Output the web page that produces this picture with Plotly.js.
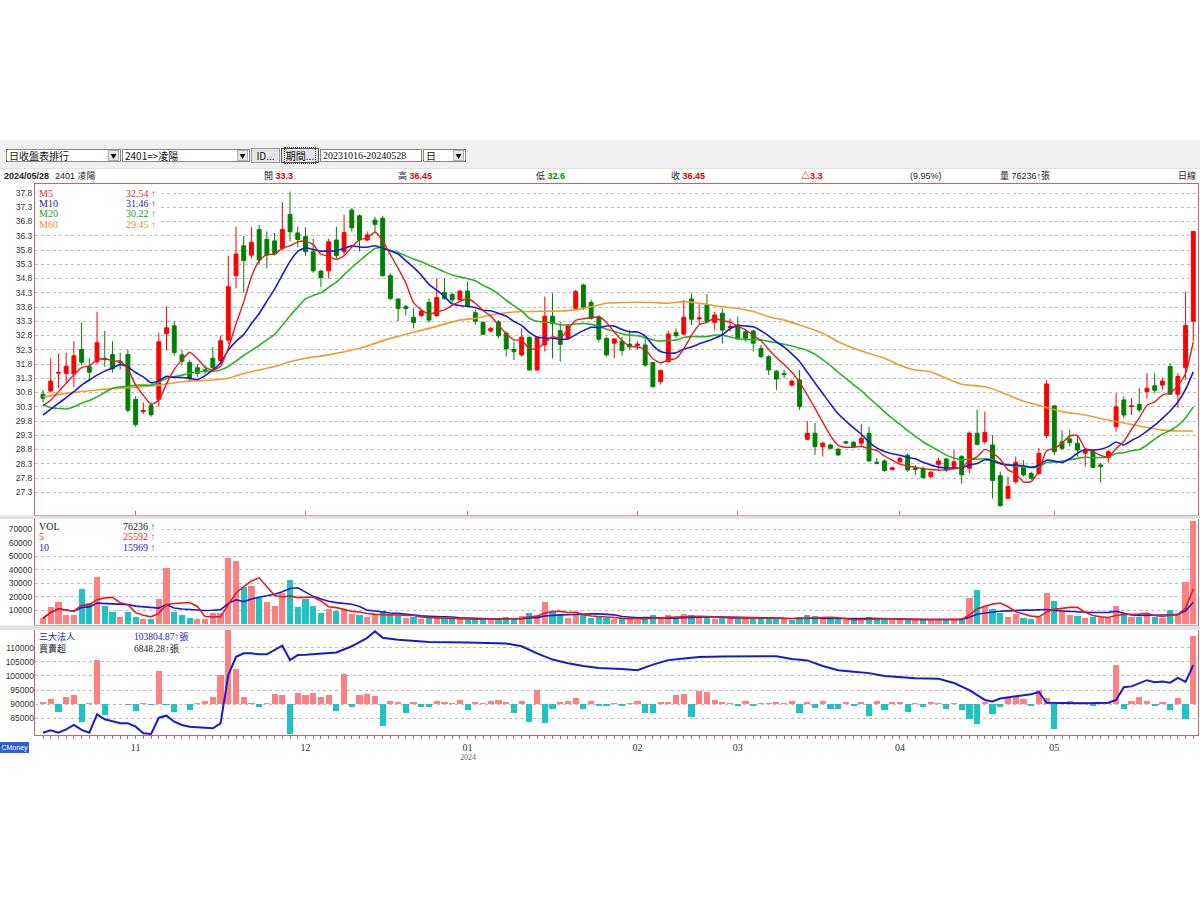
<!DOCTYPE html>
<html><head><meta charset="utf-8">
<script src="https://cdn.plot.ly/plotly-3.0.1.min.js"></script>
<style>
body{margin:0;background:#fff;width:1200px;height:900px;overflow:hidden;position:relative;font-family:"Noto Sans CJK TC","Liberation Sans",sans-serif;}
#chart{position:absolute;left:0;top:0;width:1200px;height:900px;}
.tb{position:absolute;left:0;top:140px;width:1200px;height:28px;background:#f0f0f0;border-bottom:1px solid #e0e0e0;}
.box{position:absolute;top:149px;height:13px;background:#fff;border:1px solid #8a8a8a;font-size:10px;line-height:12px;padding-left:2px;box-sizing:border-box;white-space:nowrap;overflow:hidden;color:#111;}
.arr{position:absolute;top:150px;width:11px;height:11px;background:#e6e6e6;border:1px solid #b0b0b0;box-sizing:border-box;font-size:6px;line-height:9px;text-align:center;color:#000;}
.btn{position:absolute;top:148px;height:15px;background:#e4e4e4;border:1px solid #9a9a9a;font-size:10px;line-height:13px;text-align:center;box-sizing:border-box;color:#111;}
.info{position:absolute;top:170px;height:13px;font-size:9px;line-height:13px;white-space:nowrap;font-family:"Liberation Sans","Noto Sans CJK TC",sans-serif;color:#222;}
.r{color:#e00000;font-weight:bold}
.g{color:#009000;font-weight:bold}
.cm{position:absolute;left:0;top:742px;width:29px;height:11px;background:#2c62d0;color:#fff;font-size:7px;line-height:11px;font-family:"Liberation Sans",sans-serif;text-align:center;overflow:hidden;white-space:nowrap;}
</style>
</head>
<body>
<div id="chart"></div>
<div class="tb"></div>
<div class="box" style="left:6px;width:115px;">日收盤表排行</div><div class="arr" style="left:108px;">▼</div>
<div class="box" style="left:122px;width:128px;">2401=&gt;凌陽</div><div class="arr" style="left:237px;">▼</div>
<div class="btn" style="left:251px;width:29px;">ID...</div>
<div class="btn" style="left:281px;width:38px;border:1px solid #555;"><span style="border:1px dotted #444;padding:0 1px;">期間...</span></div>
<div class="box" style="left:320px;width:102px;font-family:'Liberation Serif',serif;">20231016-20240528</div>
<div class="box" style="left:423px;width:43px;">日</div><div class="arr" style="left:453px;">▼</div>

<div class="info" style="left:4px;font-weight:bold;">2024/05/28</div>
<div class="info" style="left:55px;">2401 凌陽</div>
<div class="info" style="left:264px;">開 <span class="r">33.3</span></div>
<div class="info" style="left:398px;">高 <span class="r">36.45</span></div>
<div class="info" style="left:536px;">低 <span class="g">32.6</span></div>
<div class="info" style="left:671px;">收 <span class="r">36.45</span></div>
<div class="info" style="left:801px;"><span class="r">△3.3</span></div>
<div class="info" style="left:910px;">(9.95%)</div>
<div class="info" style="left:1000px;">量 76236↑張</div>
<div class="info" style="left:1178px;">日線</div>
<div class="cm">CMoney</div>

<script>
// ---------------- DATA ----------------
const openP = [30.74,30.85,31.48,31.47,31.45,32.31,31.71,31.88,32.0,32.13,
31.9,32.13,30.56,30.13,30.34,30.56,32.86,33.14,32.12,31.85,
31.67,31.6,32.0,31.92,32.64,34.9,35.95,35.62,36.52,36.17,
36.12,35.86,37.05,36.4,36.27,35.74,35.06,35.07,36.15,35.74,
37.2,37.0,36.15,36.85,36.91,34.9,34.08,33.81,33.44,33.5,
33.96,33.5,34.31,34.24,34.05,34.36,33.6,33.26,32.96,33.28,
32.88,32.31,32.12,32.74,31.59,32.47,33.48,32.97,32.7,33.75,
34.57,33.96,33.44,32.7,32.53,32.6,32.5,32.45,32.47,31.85,
31.18,31.88,32.9,32.85,34.08,33.38,33.87,33.26,33.58,33.08,
33.17,32.93,32.96,32.35,32.06,31.55,31.47,31.06,31.24,29.16,
29.37,28.9,28.96,28.81,29.07,29.05,29.02,29.37,28.35,28.4,
28.1,28.37,28.6,28.14,28.12,27.85,28.28,28.47,28.2,28.55,
28.14,29.37,29.07,28.96,27.88,27.09,27.67,28.2,27.96,27.96,
29.29,30.33,29.07,29.17,29.02,28.67,28.72,28.26,28.51,29.6,
30.54,30.31,30.38,30.83,31.04,31.06,31.71,30.74,31.67,33.3];

const highP = [30.89,32.0,32.17,32.2,32.6,33.25,32.0,33.63,32.96,32.6,
32.2,32.3,30.67,30.45,30.45,32.9,33.82,33.3,32.3,31.95,
31.8,31.75,32.4,32.8,35.6,36.62,36.3,36.6,36.68,36.45,
36.4,37.48,37.85,36.62,36.6,36.2,35.1,36.2,36.62,37.04,
37.28,37.05,36.45,36.96,37.0,34.98,34.1,33.87,33.75,33.7,
34.1,34.8,34.8,34.3,34.4,34.69,33.7,33.3,33.1,33.34,
32.94,32.58,33.05,32.76,32.76,34.17,34.28,33.29,33.2,34.4,
34.62,34.05,33.52,32.76,32.7,32.75,33.0,32.6,32.76,31.88,
31.6,32.97,33.05,34.05,34.28,33.89,34.26,33.64,33.75,33.4,
33.46,33.0,33.0,32.47,32.12,31.59,31.59,31.25,31.59,29.8,
29.73,29.08,29.0,28.85,29.1,29.1,29.69,29.6,28.5,28.45,
28.2,28.55,28.66,28.25,28.2,28.05,28.5,28.5,28.78,28.61,
29.43,30.2,30.13,29.31,28.02,27.85,28.55,28.43,28.02,28.85,
31.24,30.36,29.48,29.48,29.31,28.84,28.78,28.33,28.78,30.77,
30.66,30.6,30.95,31.48,31.48,31.32,31.83,31.48,34.34,36.45];

const lowP = [30.45,30.8,30.95,31.1,31.0,31.75,31.2,31.8,31.7,31.5,
31.6,30.1,29.6,30.05,29.95,30.3,32.27,32.1,31.75,31.2,
31.35,31.45,31.6,31.85,32.5,34.45,34.3,35.5,35.3,35.15,
35.6,35.8,36.1,35.9,35.6,35.0,34.5,34.8,35.5,35.6,
36.45,35.75,36.1,36.45,34.87,34.05,33.3,33.5,33.05,33.45,
33.26,33.46,34.05,33.95,34.0,33.81,33.18,32.82,32.9,32.7,
32.06,31.94,32.06,31.57,31.57,32.24,31.99,31.88,32.65,33.7,
33.7,33.35,32.58,32.06,32.0,32.1,32.3,32.3,31.71,31.0,
31.08,31.88,32.7,32.82,33.17,33.2,33.23,33.0,32.52,32.94,
32.64,32.6,32.23,32.0,31.41,30.89,31.3,31.0,30.19,29.14,
28.61,28.55,28.8,28.58,28.98,28.85,28.9,28.37,28.28,28.02,
28.05,28.32,28.02,27.9,27.78,27.8,28.05,28.0,28.08,27.6,
27.96,28.96,29.0,27.08,26.8,27.09,27.6,27.85,27.73,27.9,
29.2,28.6,28.78,28.9,28.55,28.2,28.14,27.64,28.33,29.43,
29.89,30.01,30.1,30.6,30.77,30.89,30.72,30.25,31.24,32.6];

const closeP = [30.6,31.2,31.5,31.72,32.09,31.86,31.51,32.55,31.95,31.63,
31.85,30.18,29.68,30.17,30.02,32.58,33.07,32.2,31.9,31.3,
31.47,31.55,31.67,32.62,34.51,35.66,35.43,36.07,35.45,35.62,
35.68,36.52,36.44,36.17,35.74,35.07,34.83,36.09,35.6,36.41,
36.58,36.15,36.33,36.7,34.9,34.1,33.75,33.75,33.26,33.66,
33.34,34.13,34.1,34.05,34.36,33.85,33.3,32.84,33.05,32.79,
32.33,32.23,32.74,31.59,32.74,33.48,33.23,32.49,33.13,34.34,
33.75,33.4,32.67,32.12,32.68,32.27,32.4,32.5,31.76,31.0,
31.57,32.85,32.8,33.44,33.37,33.42,33.29,33.52,32.99,33.12,
32.68,32.7,32.53,32.06,31.59,31.27,31.43,31.2,30.3,29.37,
28.9,29.02,28.84,28.61,29.03,28.9,29.19,28.4,28.31,28.06,
28.16,28.49,28.08,28.1,27.81,28.0,28.4,28.08,28.37,27.91,
29.37,28.98,29.4,27.71,26.83,27.5,28.35,27.91,27.79,28.67,
31.1,28.72,28.84,29.04,28.78,28.78,28.17,28.2,28.72,30.3,
30.01,30.33,30.19,30.95,30.88,31.2,30.74,31.36,33.15,36.45];

const PREV_CLOSE = 30.5;   // close of the day before the first shown day (estimated)

// moving-average values for the days before a full window exists
const ma5Seed  = [30.34,30.53,30.83,31.12];
const ma10Seed = [30.01,30.22,30.42,30.62,30.83,31.06,31.24,31.41,31.55];
const ma20Seed = [30.36,30.27,30.24,30.22,30.30,30.42,30.52,30.65,30.80,30.95,
                  31.00,31.01,31.06,31.06,31.06,31.15,31.30,31.36,31.41];
// MA60: [day index, value]
const ma60Pts = [[0,30.65],[3,30.77],[7,30.89],[11,30.97],[15,31.06],[18,31.18],[22,31.24],[24,31.3],[26,31.47],[28,31.59],
[30,31.71],[32,31.88],[34,32.0],[37,32.12],[41,32.35],[45,32.7],[50,33.05],[54,33.34],[56,33.4],[58,33.52],
[60,33.6],[62,33.64],[67,33.66],[69,33.7],[71,33.81],[73,33.93],[75,33.96],[79,33.96],[81,33.93],[83,33.99],
[85,33.93],[88,33.81],[90,33.75],[92,33.64],[94,33.46],[96,33.34],[98,33.17],[101,32.88],[103,32.58],[105,32.35],
[107,32.17],[109,32.0],[111,31.76],[113,31.59],[115,31.53],[117,31.3],[119,31.09],[122,31.0],[124,30.83],[126,30.6],
[128,30.42],[130,30.27],[132,30.13],[135,30.01],[137,29.89],[139,29.78],[141,29.68],[143,29.57],[145,29.48],[147,29.45],[149,29.45]];

const volume = [3900,12500,16200,6600,6600,25650,15000,34800,13200,8800,
5000,8300,5000,3350,3100,18200,41000,8800,6300,3900,
3350,3350,7500,7500,48500,46500,27400,28100,19200,15700,
13200,22400,32300,12500,18000,13000,8000,11000,9000,10000,
7000,6000,5000,6000,9000,7000,5500,4000,4500,3000,
4000,5000,3500,3000,3000,3500,3000,4000,2500,3500,
4500,3000,5500,8000,6000,16000,9000,6000,4000,7000,
7000,4000,4500,4000,3000,3500,3000,2500,5000,6000,
3500,6000,3500,7000,6500,4000,5000,3000,4500,3500,
5000,4000,4000,3500,4500,4000,3000,2500,5000,6000,
5500,3500,3000,3000,2500,2500,4000,4500,3000,3500,
2500,2500,3500,2500,3000,2500,3000,2500,3500,4000,
19000,25000,13000,11000,8000,5000,7000,4000,3500,5000,
23000,17000,9000,6000,5500,4000,5000,4000,4000,13000,
8000,5000,5000,7000,5000,4000,10000,7000,31000,76236];

// 三大法人 cumulative line: [day index, value]
const instPts = [[0,79900],[1,80750],[2,79900],[3,81100],[4,82630],[5,80870],[6,79900],[7,86420],[8,84640],[9,83800],
[10,83230],[11,83230],[12,82040],[13,79690],[14,79460],[15,85210],[16,85920],[17,83800],[18,82630],[19,82040],
[20,81800],[21,81450],[22,81450],[23,83230],[24,100330],[25,106800],[26,108000],[27,108000],[28,107650],[29,107650],
[30,109200],[31,110700],[32,105640],[33,107400],[34,107500],[36,108000],[38,108300],[40,110500],[42,113500],[43,115800],
[44,113500],[46,112800],[50,112000],[55,111800],[60,111500],[62,110500],[64,108000],[66,105800],[68,104500],[70,103500],
[72,102800],[75,102500],[77,102000],[79,104000],[81,105600],[83,106200],[85,106700],[88,106900],[92,107000],[95,107000],
[97,106000],[99,105500],[101,103500],[103,102000],[105,101500],[107,101000],[109,100000],[111,99500],[113,99200],[116,99000],
[118,97500],[120,95000],[122,91500],[123,91000],[124,92000],[126,92800],[128,93500],[129,94300],[130,90500],[132,90400],
[135,90300],[138,90500],[139,91500],[140,96000],[141,96300],[143,98500],[144,97800],[145,98000],[146,97600],[147,99300],
[148,97900],[149,103804.87]];

// 買賣超 (net buy / sell)
const netBuy = [236,505,-775,707,976,-1785,135,4444,-1111,60,
50,-40,-673,135,-100,3333,-50,-775,67,-606,
135,370,707,2997,8500,3603,740,168,-270,101,
1044,909,-2963,1145,900,1100,700,900,-700,3100,
-310,900,1000,800,-2240,300,200,-890,200,-310,
-310,300,200,150,400,-620,200,150,300,400,
250,-890,300,-1780,1400,-1930,-500,200,300,600,
-500,300,-200,-200,150,-230,150,300,-890,-890,
200,250,900,1000,-1280,1300,1200,400,200,150,
-200,300,-150,150,150,200,150,300,-890,200,
-390,300,-500,-500,200,-230,200,-1160,300,-620,
250,200,-780,100,-270,200,150,-440,100,-610,
-1450,-1950,200,-950,-270,700,700,500,-150,1400,
600,-2460,200,300,150,200,-150,100,200,4000,
-440,300,700,300,-200,200,-610,600,-1450,6848.28];

const monthIdx  = [12,34,55,77,90,111,131];
const monthText = ['11','12','01','02','03','04','05'];
const priceTicks = ['27.3','27.8','28.3','28.8','29.3','29.8','30.3','30.8','31.3','31.8','32.3','32.8','33.3','33.8','34.3','34.8','35.3','35.8','36.3','36.8','37.3','37.8'];
const volTicks  = ['10000','20000','30000','40000','50000','60000','70000'];
const instTicks = ['85000','90000','95000','100000','105000','110000'];

const legMain = [['M5','32.54 ↑'],['M10','31.46 ↑'],['M20','30.22 ↑'],['M60','29.45 ↑']];
const legVol  = [['VOL','76236 ↑'],['5','25592 ↑'],['10','15969 ↑']];
const legInst = [['三大法人','103804.87↑張'],['買賣超','6848.28↑張']];

// ---------------- DERIVED ----------------
const idx = closeP.map((_, i) => i);
function movAvg(arr, n, seed) {
  return arr.map((v, i) => {
    if (i < n - 1) return seed ? seed[i] : arr.slice(0, i + 1).reduce((a, b) => a + b, 0) / (i + 1);
    return arr.slice(i - n + 1, i + 1).reduce((a, b) => a + b, 0) / n;
  });
}
const ma5 = movAvg(closeP, 5, ma5Seed);
const ma10 = movAvg(closeP, 10, ma10Seed);
const ma20 = movAvg(closeP, 20, ma20Seed);
const vma5 = movAvg(volume, 5, null);
const vma10 = movAvg(volume, 10, null);

const UP = '#ff8080', DN = '#1ec4c4';
const volColors = closeP.map((c, i) => c >= (i === 0 ? PREV_CLOSE : closeP[i - 1]) ? UP : DN);
const netColors = netBuy.map(v => v >= 0 ? UP : DN);

// ---------------- LAYOUT GEOMETRY ----------------
const L = 35, R = 1198, T = 184, B = 735;
const W = R - L, H = B - T;
const xp = px => (px - L) / W;
const yp = py => (B - py) / H;
const XR = [-1.036, 149.61];
const BORDER = '#c06868';
const GRID = '#bdbdbd';
const tickFont = {family: 'Liberation Sans, sans-serif', size: 8.5, color: '#333'};

const traces = [
  {type: 'candlestick', x: idx, open: openP, high: highP, low: lowP, close: closeP,
   xaxis: 'x2', yaxis: 'y', whiskerwidth: 0,
   increasing: {line: {color: '#ff0000', width: 1}, fillcolor: '#ff0000'},
   decreasing: {line: {color: '#008000', width: 1}, fillcolor: '#008000'},
   hoverinfo: 'skip', showlegend: false},
  {type: 'scatter', mode: 'lines', x: ma60Pts.map(p => p[0]), y: ma60Pts.map(p => p[1]), xaxis: 'x2', yaxis: 'y',
   line: {color: '#f39a2e', width: 1.6, shape: 'spline', smoothing: 0.6}, hoverinfo: 'skip', showlegend: false},
  {type: 'scatter', mode: 'lines', x: idx, y: ma20, xaxis: 'x2', yaxis: 'y',
   line: {color: '#28b428', width: 1.6, shape: 'spline', smoothing: 0.5}, hoverinfo: 'skip', showlegend: false},
  {type: 'scatter', mode: 'lines', x: idx, y: ma10, xaxis: 'x2', yaxis: 'y',
   line: {color: '#1a1ad6', width: 1.6, shape: 'spline', smoothing: 0.5}, hoverinfo: 'skip', showlegend: false},
  {type: 'scatter', mode: 'lines', x: idx, y: ma5, xaxis: 'x2', yaxis: 'y',
   line: {color: '#e41c1c', width: 1.4, shape: 'spline', smoothing: 0.5}, hoverinfo: 'skip', showlegend: false},

  {type: 'bar', x: idx, y: volume, xaxis: 'x3', yaxis: 'y2', width: 0.8,
   marker: {color: volColors, line: {width: 0}}, hoverinfo: 'skip', showlegend: false},
  {type: 'scatter', mode: 'lines', x: idx, y: vma10, xaxis: 'x3', yaxis: 'y2',
   line: {color: '#1a1ad6', width: 1.6}, hoverinfo: 'skip', showlegend: false},
  {type: 'scatter', mode: 'lines', x: idx, y: vma5, xaxis: 'x3', yaxis: 'y2',
   line: {color: '#e41c1c', width: 1.6}, hoverinfo: 'skip', showlegend: false},

  {type: 'bar', x: idx, y: netBuy, xaxis: 'x', yaxis: 'y3', width: 0.8,
   marker: {color: netColors, line: {width: 0}}, hoverinfo: 'skip', showlegend: false},
  {type: 'scatter', mode: 'lines', x: instPts.map(p => p[0]), y: instPts.map(p => p[1]), xaxis: 'x', yaxis: 'y4',
   line: {color: '#1a1ad0', width: 2}, hoverinfo: 'skip', showlegend: false}
];

const shapes = [
  // grey separators between panels
  {type: 'rect', xref: 'paper', yref: 'paper', x0: xp(0), x1: xp(1200), y0: yp(519), y1: yp(515.5), fillcolor: '#e2e2e2', line: {width: 0}, layer: 'above'},
  {type: 'rect', xref: 'paper', yref: 'paper', x0: xp(0), x1: xp(1200), y0: yp(630), y1: yp(625.5), fillcolor: '#e2e2e2', line: {width: 0}, layer: 'above'},
  // legend boxes
  {type: 'rect', xref: 'paper', yref: 'paper', x0: xp(35.6), x1: xp(160), y0: yp(232), y1: yp(184.6), fillcolor: '#fff', line: {width: 0}, layer: 'above'},
  {type: 'rect', xref: 'paper', yref: 'paper', x0: xp(35.6), x1: xp(160), y0: yp(553), y1: yp(519.6), fillcolor: '#fff', line: {width: 0}, layer: 'above'},
  {type: 'rect', xref: 'paper', yref: 'paper', x0: xp(35.6), x1: xp(185), y0: yp(654), y1: yp(630.6), fillcolor: '#fff', line: {width: 0}, layer: 'above'}
];

const annotations = [];
const serif = 'Liberation Serif, Noto Sans CJK TC, serif';
const legColorsMain = ['#e03030', '#2424c0', '#20a020', '#e8902c'];
const rowsMain = [193, 204, 214, 224];
legMain.forEach((r, k) => {
  annotations.push({xref: 'paper', yref: 'paper', x: xp(37), y: yp(rowsMain[k]), xanchor: 'left', yanchor: 'middle', showarrow: false,
    text: r[0], font: {family: serif, size: 10, color: legColorsMain[k]}});
  annotations.push({xref: 'paper', yref: 'paper', x: xp(158), y: yp(rowsMain[k]), xanchor: 'right', yanchor: 'middle', showarrow: false,
    text: r[1], font: {family: serif, size: 10, color: legColorsMain[k]}});
});
const legColorsVol = ['#222', '#e03030', '#2424c0'];
const rowsVol = [526, 536.5, 547];
legVol.forEach((r, k) => {
  annotations.push({xref: 'paper', yref: 'paper', x: xp(37), y: yp(rowsVol[k]), xanchor: 'left', yanchor: 'middle', showarrow: false,
    text: r[0], font: {family: serif, size: 10, color: legColorsVol[k]}});
  annotations.push({xref: 'paper', yref: 'paper', x: xp(158), y: yp(rowsVol[k]), xanchor: 'right', yanchor: 'middle', showarrow: false,
    text: r[1], font: {family: serif, size: 10, color: legColorsVol[k]}});
});
const legColorsInst = ['#2424c0', '#222'];
const rowsInst = [636.5, 648.5];
legInst.forEach((r, k) => {
  annotations.push({xref: 'paper', yref: 'paper', x: xp(37), y: yp(rowsInst[k]), xanchor: 'left', yanchor: 'middle', showarrow: false,
    text: r[0], font: {family: 'Noto Sans CJK TC, sans-serif', size: 9, color: legColorsInst[k]}});
  annotations.push({xref: 'paper', yref: 'paper', x: xp(132), y: yp(rowsInst[k]), xanchor: 'left', yanchor: 'middle', showarrow: false,
    text: r[1], font: {family: serif, size: 9.5, color: legColorsInst[k]}});
});
annotations.push({xref: 'x', yref: 'paper', x: monthIdx[2], y: yp(757), xanchor: 'center', yanchor: 'middle', showarrow: false,
  text: '2024', font: {family: serif, size: 8, color: '#666'}});

const allTickVals = idx;
const allTickText = idx.map(i => { const k = monthIdx.indexOf(i); return k >= 0 ? monthText[k] : ''; });

const baseY = {showgrid: true, gridcolor: GRID, griddash: 'dot', gridwidth: 1, zeroline: false,
  showline: true, mirror: true, linecolor: BORDER, linewidth: 1, ticks: '', tickfont: tickFont, fixedrange: true};

const layout = {
  width: 1200, height: 900,
  margin: {l: L, r: 1200 - R, t: T, b: 900 - B, pad: 0},
  paper_bgcolor: 'rgba(0,0,0,0)', plot_bgcolor: '#ffffff',
  showlegend: false, hovermode: false, bargap: 0, boxgap: 0.28,
  xaxis: {domain: [0, 1], anchor: 'y3', range: XR, showgrid: false, zeroline: false,
    showline: true, mirror: true, linecolor: BORDER, ticks: 'outside', ticklen: 3, tickcolor: BORDER, tickwidth: 1,
    tickmode: 'array', tickvals: allTickVals, ticktext: allTickText,
    tickfont: {family: serif, size: 10, color: '#333'}, fixedrange: true},
  xaxis2: {domain: [0, 1], anchor: 'y', matches: 'x', range: XR, showgrid: false, zeroline: false,
    showline: true, mirror: true, linecolor: BORDER, ticks: 'inside', ticklen: 4, tickcolor: BORDER,
    tickmode: 'array', tickvals: monthIdx, showticklabels: false, rangeslider: {visible: false}, fixedrange: true},
  xaxis3: {domain: [0, 1], anchor: 'y2', matches: 'x', range: XR, showgrid: false, zeroline: false,
    showline: true, mirror: true, linecolor: BORDER, ticks: '', showticklabels: false, fixedrange: true},
  yaxis: Object.assign({}, baseY, {domain: [yp(515), 1], anchor: 'x2', range: [26.502, 38.116],
    tickmode: 'array', tickvals: priceTicks.map(Number), ticktext: priceTicks}),
  yaxis2: Object.assign({}, baseY, {domain: [yp(625), yp(519)], anchor: 'x3', range: [-1115, 77695],
    tickmode: 'array', tickvals: volTicks.map(Number), ticktext: volTicks}),
  yaxis3: {domain: [0, yp(630)], anchor: 'x', range: [-3111, 7495], showgrid: false, zeroline: false,
    showticklabels: false, ticks: '', showline: true, mirror: true, linecolor: BORDER, fixedrange: true},
  yaxis4: Object.assign({}, baseY, {overlaying: 'y3', anchor: 'x', side: 'left', range: [79086, 116268], showline: false, mirror: false,
    tickmode: 'array', tickvals: instTicks.map(Number), ticktext: instTicks}),
  shapes: shapes,
  annotations: annotations
};

Plotly.newPlot('chart', traces, layout, {staticPlot: true, displayModeBar: false});
</script>
</body></html>
